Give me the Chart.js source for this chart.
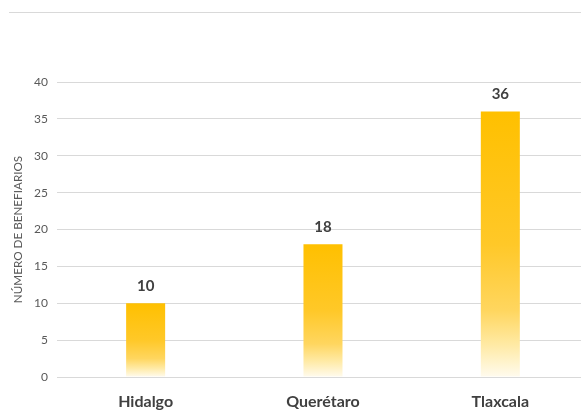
<!DOCTYPE html>
<html>
<head>
<meta charset="utf-8">
<script src="https://cdn.jsdelivr.net/npm/chart.js@4"></script>
<style>
  html, body { margin: 0; padding: 0; background: #fff; }
  #wrap { position: relative; width: 581px; height: 410px; overflow: hidden; }
  #topline { position: absolute; left: 9px; right: 0; top: 12px; border-top: 1px solid #d9d9d9; }
  canvas { position: absolute; left: 0; top: 0; }
</style>
</head>
<body>
<div id="wrap">
  <div id="topline"></div>
  <canvas id="chart" width="589" height="410"></canvas>
</div>
<script>
// Datos de la gráfica
const estados = ["Hidalgo", "Querétaro", "Tlaxcala"];
const beneficiarios = [10, 18, 36];
const yTicks = [0, 5, 10, 15, 20, 25, 30, 35, 40];

const FONT = "Lato, 'Open Sans', sans-serif";

// Degradado dorado -> blanco para cada barra, calculado con la escala Y
function barGradient(context) {
  const chart = context.chart;
  const yScale = chart.scales.y;
  if (!chart.chartArea || !yScale || context.parsed === undefined) return "#FFC000";
  const top = yScale.getPixelForValue(context.parsed.y);
  const base = yScale.getPixelForValue(0);
  if (!isFinite(top) || !isFinite(base) || top === base) return "#FFC000";
  const g = chart.ctx.createLinearGradient(0, top, 0, base);
  g.addColorStop(0, "rgb(255,192,0)");
  g.addColorStop(0.5, "rgb(255,200,40)");
  g.addColorStop(0.75, "rgb(255,214,95)");
  g.addColorStop(0.88, "rgb(255,234,165)");
  g.addColorStop(1, "rgb(255,251,238)");
  return g;
}

// Etiquetas de valor sobre cada barra
const valueLabels = {
  id: "valueLabels",
  afterDatasetsDraw(chart) {
    const ctx = chart.ctx;
    const meta = chart.getDatasetMeta(0);
    ctx.save();
    ctx.font = "bold 15px " + FONT;
    ctx.fillStyle = "#404040";
    ctx.textAlign = "center";
    ctx.textBaseline = "bottom";
    meta.data.forEach((bar, i) => {
      ctx.fillText(String(chart.data.datasets[0].data[i]), bar.x, bar.y - 10);
    });
    ctx.restore();
  }
};

const ctx = document.getElementById("chart").getContext("2d");
new Chart(ctx, {
  type: "bar",
  data: {
    labels: estados,
    datasets: [{
      data: beneficiarios,
      backgroundColor: barGradient,
      borderWidth: 0,
      categoryPercentage: 1,
      barPercentage: 0.22
    }]
  },
  options: {
    responsive: false,
    animation: false,
    layout: { padding: { top: 82, right: 0, left: 3, bottom: 0 } },
    plugins: {
      legend: { display: false },
      tooltip: { enabled: false }
    },
    scales: {
      y: {
        min: 0,
        max: 40,
        afterBuildTicks(scale) {
          scale.ticks = yTicks.map(v => ({ value: v }));
        },
        border: { display: false },
        grid: { color: "#d9d9d9", drawTicks: false, lineWidth: 1 },
        ticks: {
          color: "#595959",
          font: { family: FONT, size: 12 },
          padding: 9
        },
        title: {
          display: true,
          text: "NÚMERO DE BENEFIARIOS",
          color: "#595959",
          font: { family: FONT, size: 11.7 },
          padding: { top: 8, bottom: 0 }
        }
      },
      x: {
        afterFit(scale) {
          scale.height = 33;
        },
        border: { display: false },
        grid: { display: false, drawTicks: false },
        ticks: {
          color: "#404040",
          font: { family: FONT, size: 16, weight: "bold" },
          padding: 15
        }
      }
    }
  },
  plugins: [valueLabels]
});
</script>
</body>
</html>
